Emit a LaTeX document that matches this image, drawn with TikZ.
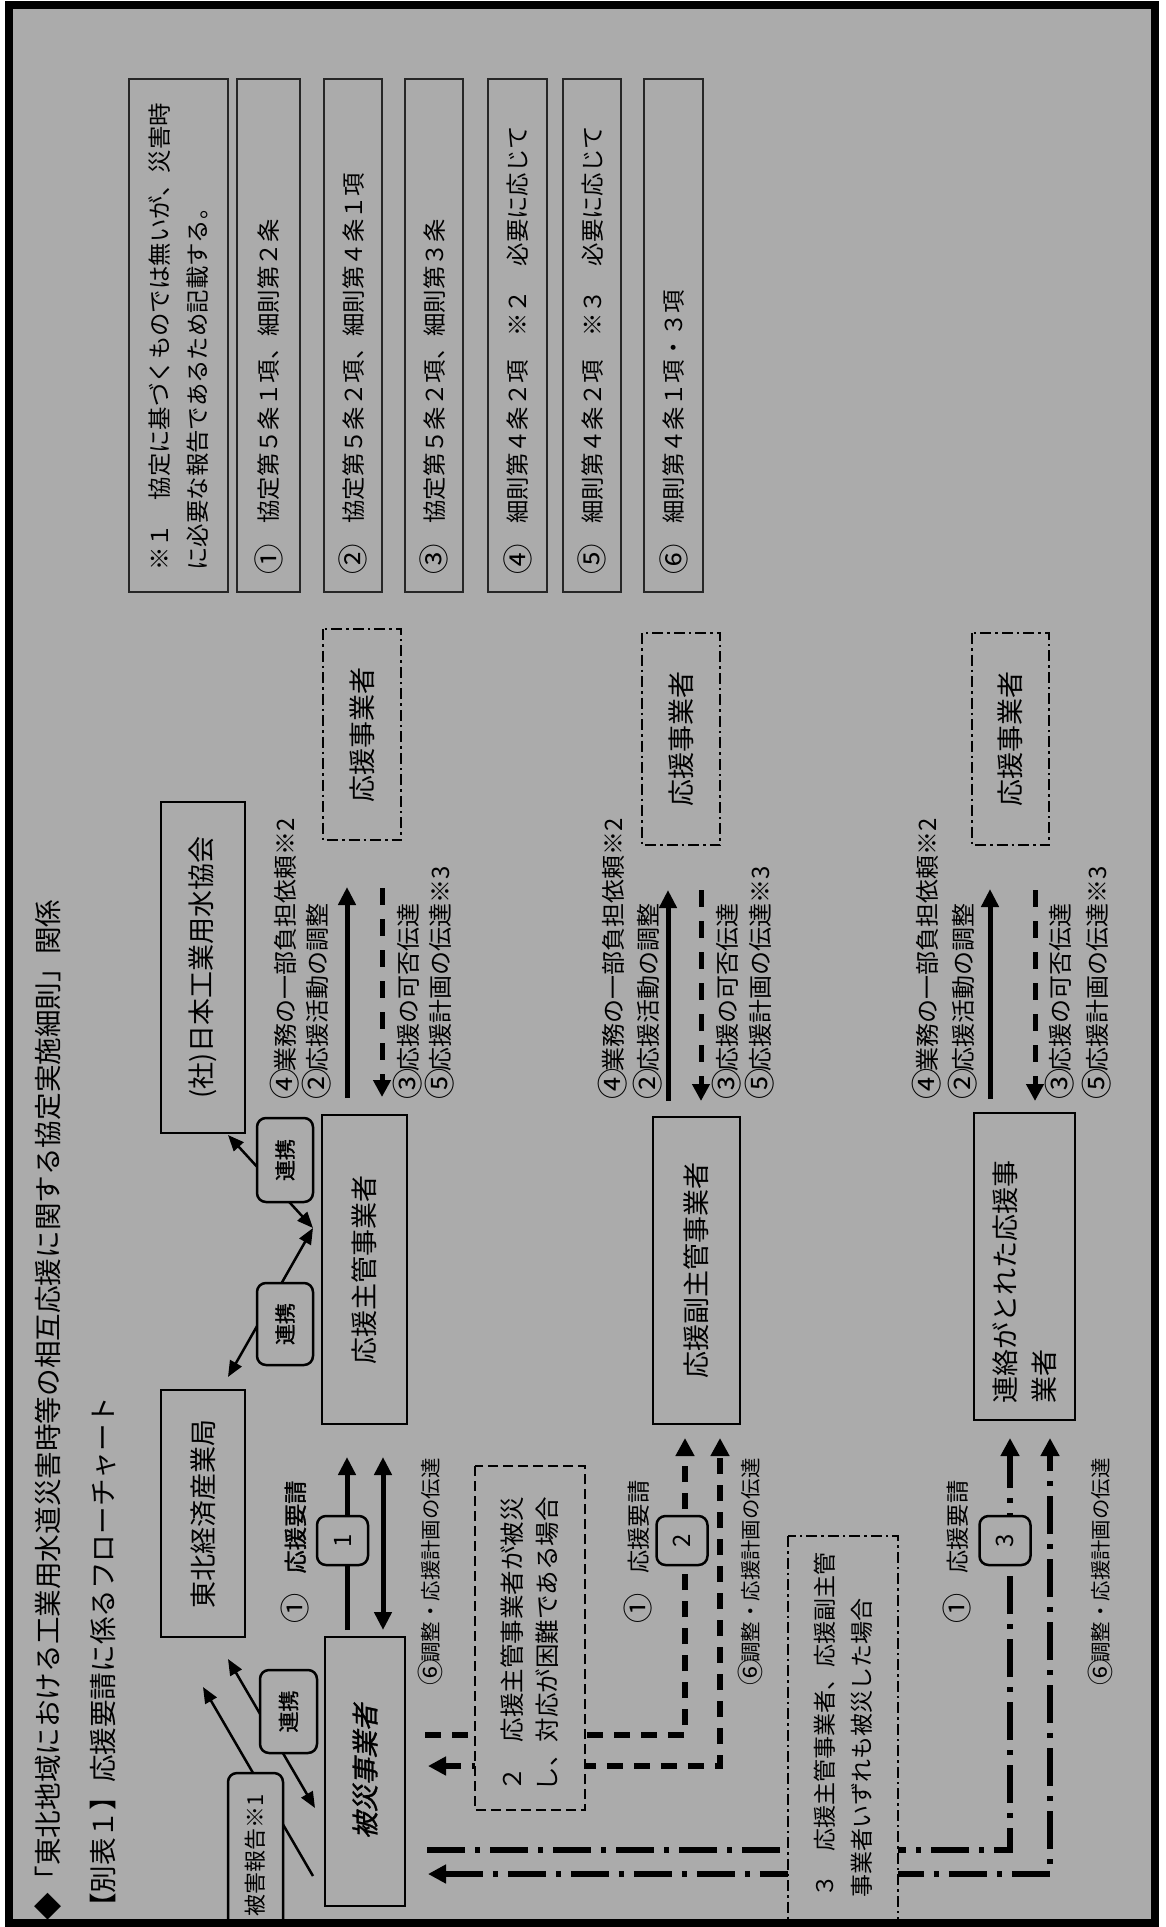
\documentclass[tikz,border=0pt]{standalone}
\usepackage{graphicx}
\usepackage{fontspec}
\setmainfont{Noto Sans CJK JP}
\newfontfamily\jpbold[FakeBold=1.2]{Noto Sans CJK JP}
\newfontfamily\jpbi[FakeBold=1.2,FakeSlant=0.22]{Noto Sans CJK JP}
\usetikzlibrary{arrows.meta}
\definecolor{bg}{RGB}{171,171,171}
\newcommand\cn[1]{\makebox[1em]{\raisebox{-0.1em}{\scalebox{1.3}{#1}}}}
\newcommand\fsTitle{\fontsize{27.6pt}{33pt}\selectfont}
\newcommand\fsBox{\fontsize{27pt}{39pt}\selectfont}
\newcommand\fsLab{\fontsize{24pt}{28pt}\selectfont}
\newcommand\fsNote{\fontsize{23.4pt}{38pt}\selectfont}
\newcommand\fsSix{\fontsize{20.4pt}{24pt}\selectfont}
\newcommand\fsTag{\fontsize{21pt}{25pt}\selectfont}
\newcommand\fsCaseA{\fontsize{24.5pt}{35pt}\selectfont}
\newcommand\fsCaseB{\fontsize{23pt}{37pt}\selectfont}
\pgfdeclarelayer{back}\pgfdeclarelayer{lines}
\pgfsetlayers{back,lines,main}
\tikzset{
  lbl/.style={rotate=90, anchor=west, inner sep=0pt, font=\fsLab},
  mainbox/.style={draw, line width=2.5pt, fill=bg, rotate=90, inner sep=0pt, font=\fsBox, align=center},
  notebox/.style={draw=black!85, line width=2pt, fill=bg, rotate=90, inner ysep=0pt, inner xsep=21.5pt, text width=470pt, align=left, font=\fsNote},
  ddbox/.style={draw, line width=2pt, dash pattern=on 11pt off 4pt on 2.5pt off 4pt, fill=bg, rotate=90, inner sep=0pt, font=\fsBox},
  tagbox/.style={draw, line width=2.5pt, rounded corners=9pt, fill=bg, rotate=90, inner sep=0pt, font=\fsTag},
  fat/.style={line width=5pt, >={Triangle[length=18pt,width=17pt]}},
  fatdash/.style={line width=5pt, dash pattern=on 17pt off 14pt, >={Triangle[length=17pt,width=17pt]}},
  bigdash/.style={line width=6pt, dash pattern=on 16pt off 11pt, >={Triangle[length=18pt,width=18pt]}},
  bigdd/.style={line width=5.5pt, dash pattern=on 38pt off 10pt on 5pt off 10pt, >={Triangle[length=18pt,width=18pt]}},
  diag/.style={line width=2.5pt, >={Triangle[length=16pt,width=13pt]}}
}
\begin{document}
\begin{tikzpicture}[x=1pt,y=-1pt]
\useasboundingbox (0,0) rectangle (1165,1927);
\begin{pgfonlayer}{back}
\fill[white] (0,0) rectangle (1165,1927);
\fill[bg] (9,5.5) rectangle (1155,1923);
\end{pgfonlayer}

% titles
\node[lbl, font=\fsTitle] (title) at (48,1921) {◆「東北地域における工業用水道災害時等の相互応援に関する協定実施細則」関係};
\node[lbl, font=\fsTitle] (subtitle) at (103,1921) {【別表１】応援要請に係るフローチャート};

% notes
\node[notebox, minimum height=99pt] (n0) at (178.5,335.5) {※１　協定に基づくものでは無いが、災害時\\に必要な報告であるため記載する。};
\node[notebox, minimum height=63pt] (n1) at (268.5,335.5) {\cn{①}　協定第５条１項、細則第２条};
\node[notebox, minimum height=58pt] (n2) at (353,335.5) {\cn{②}　協定第５条２項、細則第４条１項};
\node[notebox, minimum height=58pt] (n3) at (434,335.5) {\cn{③}　協定第５条２項、細則第３条};
\node[notebox, minimum height=59pt] (n4) at (517.5,335.5) {\cn{④}　細則第４条２項　※２　必要に応じて};
\node[notebox, minimum height=58pt] (n5) at (592,335.5) {\cn{⑤}　細則第４条２項　※３　必要に応じて};
\node[notebox, minimum height=59pt] (n6) at (673.5,335.5) {\cn{⑥}　細則第４条１項・３項};

% main boxes
\node[mainbox, minimum width=247pt, minimum height=84pt] (tohoku) at (203,1513.5) {東北経済産業局};
\node[mainbox, minimum width=331pt, minimum height=84pt] (nihon) at (203,967.5) {(社)日本工業用水協会};
\node[mainbox, minimum width=269pt, minimum height=80pt] (hisai) at (365,1771.5) {\jpbi 被災事業者};
\node[mainbox, minimum width=309pt, minimum height=85pt] (shukan) at (364.5,1269.5) {応援主管事業者};
\node[mainbox, minimum width=307pt, minimum height=87pt] (fuku) at (696.5,1270.5) {応援副主管事業者};
\node[mainbox, minimum width=307pt, minimum height=101pt, text width=273pt, inner xsep=17pt, align=left] (renraku) at (1024.5,1266.5) {連絡がとれた応援事\\業者};

\node[ddbox, minimum width=211pt, minimum height=78pt] (ouen1) at (362,734.5) {応援事業者};
\node[ddbox, minimum width=212pt, minimum height=78pt] (ouen2) at (681,739) {応援事業者};
\node[ddbox, minimum width=212pt, minimum height=77pt] (ouen3) at (1010.5,739) {応援事業者};

% coordinates for connectors
\coordinate (d1a) at (228,1659); \coordinate (d1b) at (315,1808);
\coordinate (d2a) at (313,1876); \coordinate (d2b) at (203,1687);
\coordinate (pp) at (313,1228);
\coordinate (d3b) at (228,1377); \coordinate (d4b) at (228,1135);

\coordinate (g1s0) at (347,1630); \coordinate (g1s1) at (347,1457);
\coordinate (g1d0) at (383,1630); \coordinate (g1d1) at (383,1457);
\coordinate (g2a0) at (425,1735); \coordinate (g2a1) at (685,1735); \coordinate (g2a2) at (685,1438);
\coordinate (g2b0) at (428,1766); \coordinate (g2b1) at (720,1766); \coordinate (g2b2) at (720,1438);
\coordinate (g3c0) at (427,1850); \coordinate (g3c1) at (1010,1850); \coordinate (g3c2) at (1010,1438);
\coordinate (g3d0) at (428,1874); \coordinate (g3d1) at (1050,1874); \coordinate (g3d2) at (1050,1438);

\coordinate (u1s0) at (347,1098); \coordinate (u1s1) at (347,887);
\coordinate (u1d0) at (382,888); \coordinate (u1d1) at (382,1097);
\coordinate (u2s0) at (668,1101); \coordinate (u2s1) at (668,890);
\coordinate (u2d0) at (701,890); \coordinate (u2d1) at (701,1101);
\coordinate (u3s0) at (990,1099); \coordinate (u3s1) at (990,889);
\coordinate (u3d0) at (1035,890); \coordinate (u3d1) at (1035,1101);

\begin{pgfonlayer}{lines}
\draw[diag,<->] (d1a) -- (d1b);
\draw[diag,->] (d2a) -- (d2b);
\draw[diag,<->] (pp) -- (d3b);
\draw[diag,<->] (pp) -- (d4b);
\draw[fat,->] (g1s0) -- (g1s1);
\draw[fat,<->] (g1d0) -- (g1d1);
\draw[bigdash,->] (g2a0) -- (g2a1) -- (g2a2);
\draw[bigdash,<->] (g2b0) -- (g2b1) -- (g2b2);
\draw[bigdd,->] (g3c0) -- (g3c1) -- (g3c2);
\draw[bigdd,<->] (g3d0) -- (g3d1) -- (g3d2);
\draw[fat,->] (u1s0) -- (u1s1);
\draw[fatdash,->] (u1d0) -- (u1d1);
\draw[fat,->] (u2s0) -- (u2s1);
\draw[fatdash,->] (u2d0) -- (u2d1);
\draw[fat,->] (u3s0) -- (u3s1);
\draw[fatdash,->] (u3d0) -- (u3d1);
\end{pgfonlayer}

% tag boxes over lines
\node[tagbox, minimum width=83pt, minimum height=57pt] (renkei1) at (288.5,1711.5) {\jpbold 連携};
\node[tagbox, minimum width=82pt, minimum height=56pt] (renkei2) at (285,1324) {\jpbold 連携};
\node[tagbox, minimum width=84pt, minimum height=56pt] (renkei3) at (285,1160) {\jpbold 連携};
\node[tagbox, minimum width=164pt, minimum height=55pt, font=\fontsize{22pt}{26pt}\selectfont] (higai) at (255.5,1855) {被害報告※1};
\node[tagbox, minimum width=49pt, minimum height=51pt, font=\fsLab] (num1) at (342.5,1540.5) {1};
\node[tagbox, minimum width=49pt, minimum height=51pt, font=\fsLab] (num2) at (682,1540.5) {2};
\node[tagbox, minimum width=49pt, minimum height=51pt, font=\fsLab] (num3) at (1005,1540.5) {3};

% case boxes
\node[draw, line width=2pt, dash pattern=on 10pt off 5pt, fill=bg, rotate=90, minimum width=344pt, minimum height=110pt, text width=306pt, inner xsep=19pt, inner ysep=0pt, align=left, font=\fsCaseA] (case2) at (530,1638) {２　応援主管事業者が被災\\し、対応が困難である場合};
\node[draw, line width=2pt, dash pattern=on 11pt off 4pt on 2.5pt off 4pt, fill=bg, rotate=90, minimum width=399pt, minimum height=110pt, text width=323pt, inner xsep=38pt, inner ysep=0pt, align=left, font=\fsCaseB] (case3) at (843,1735.5) {３　応援主管事業者、応援副主管\\事業者いずれも被災した場合};

% labels upper groups
\node[lbl] (a1) at (285,1096) {\cn{④}業務の一部負担依頼※2};
\node[lbl] (b1) at (317,1096) {\cn{②}応援活動の調整};
\node[lbl] (c1) at (408,1096) {\cn{③}応援の可否伝達};
\node[lbl] (e1) at (440,1096) {\cn{⑤}応援計画の伝達※3};
\node[lbl] (a2) at (613,1096) {\cn{④}業務の一部負担依頼※2};
\node[lbl] (b2) at (648,1096) {\cn{②}応援活動の調整};
\node[lbl] (c2) at (727,1096) {\cn{③}応援の可否伝達};
\node[lbl] (e2) at (760,1096) {\cn{⑤}応援計画の伝達※3};
\node[lbl] (a3) at (927,1096) {\cn{④}業務の一部負担依頼※2};
\node[lbl] (b3) at (963,1096) {\cn{②}応援活動の調整};
\node[lbl] (c3) at (1060,1096) {\cn{③}応援の可否伝達};
\node[lbl] (e3) at (1097,1096) {\cn{⑤}応援計画の伝達※3};

% labels lower groups
\node[lbl, font=\fontsize{23.2pt}{28pt}\selectfont] (r1) at (295,1620) {\cn{①}　{\jpbold 応援要請}};
\node[lbl, font=\fontsize{23.2pt}{28pt}\selectfont] (r2) at (638,1620) {\cn{①}　応援要請};
\node[lbl, font=\fontsize{23.2pt}{28pt}\selectfont] (r3) at (957,1620) {\cn{①}　応援要請};
\node[lbl, font=\fsSix] (s1) at (430,1683) {\cn{⑥}調整・応援計画の伝達};
\node[lbl, font=\fsSix] (s2) at (750,1683) {\cn{⑥}調整・応援計画の伝達};
\node[lbl, font=\fsSix] (s3) at (1100,1683) {\cn{⑥}調整・応援計画の伝達};

% frame
\draw[line width=8pt] (9,5.5) rectangle (1155,1923);
\end{tikzpicture}
\end{document}
